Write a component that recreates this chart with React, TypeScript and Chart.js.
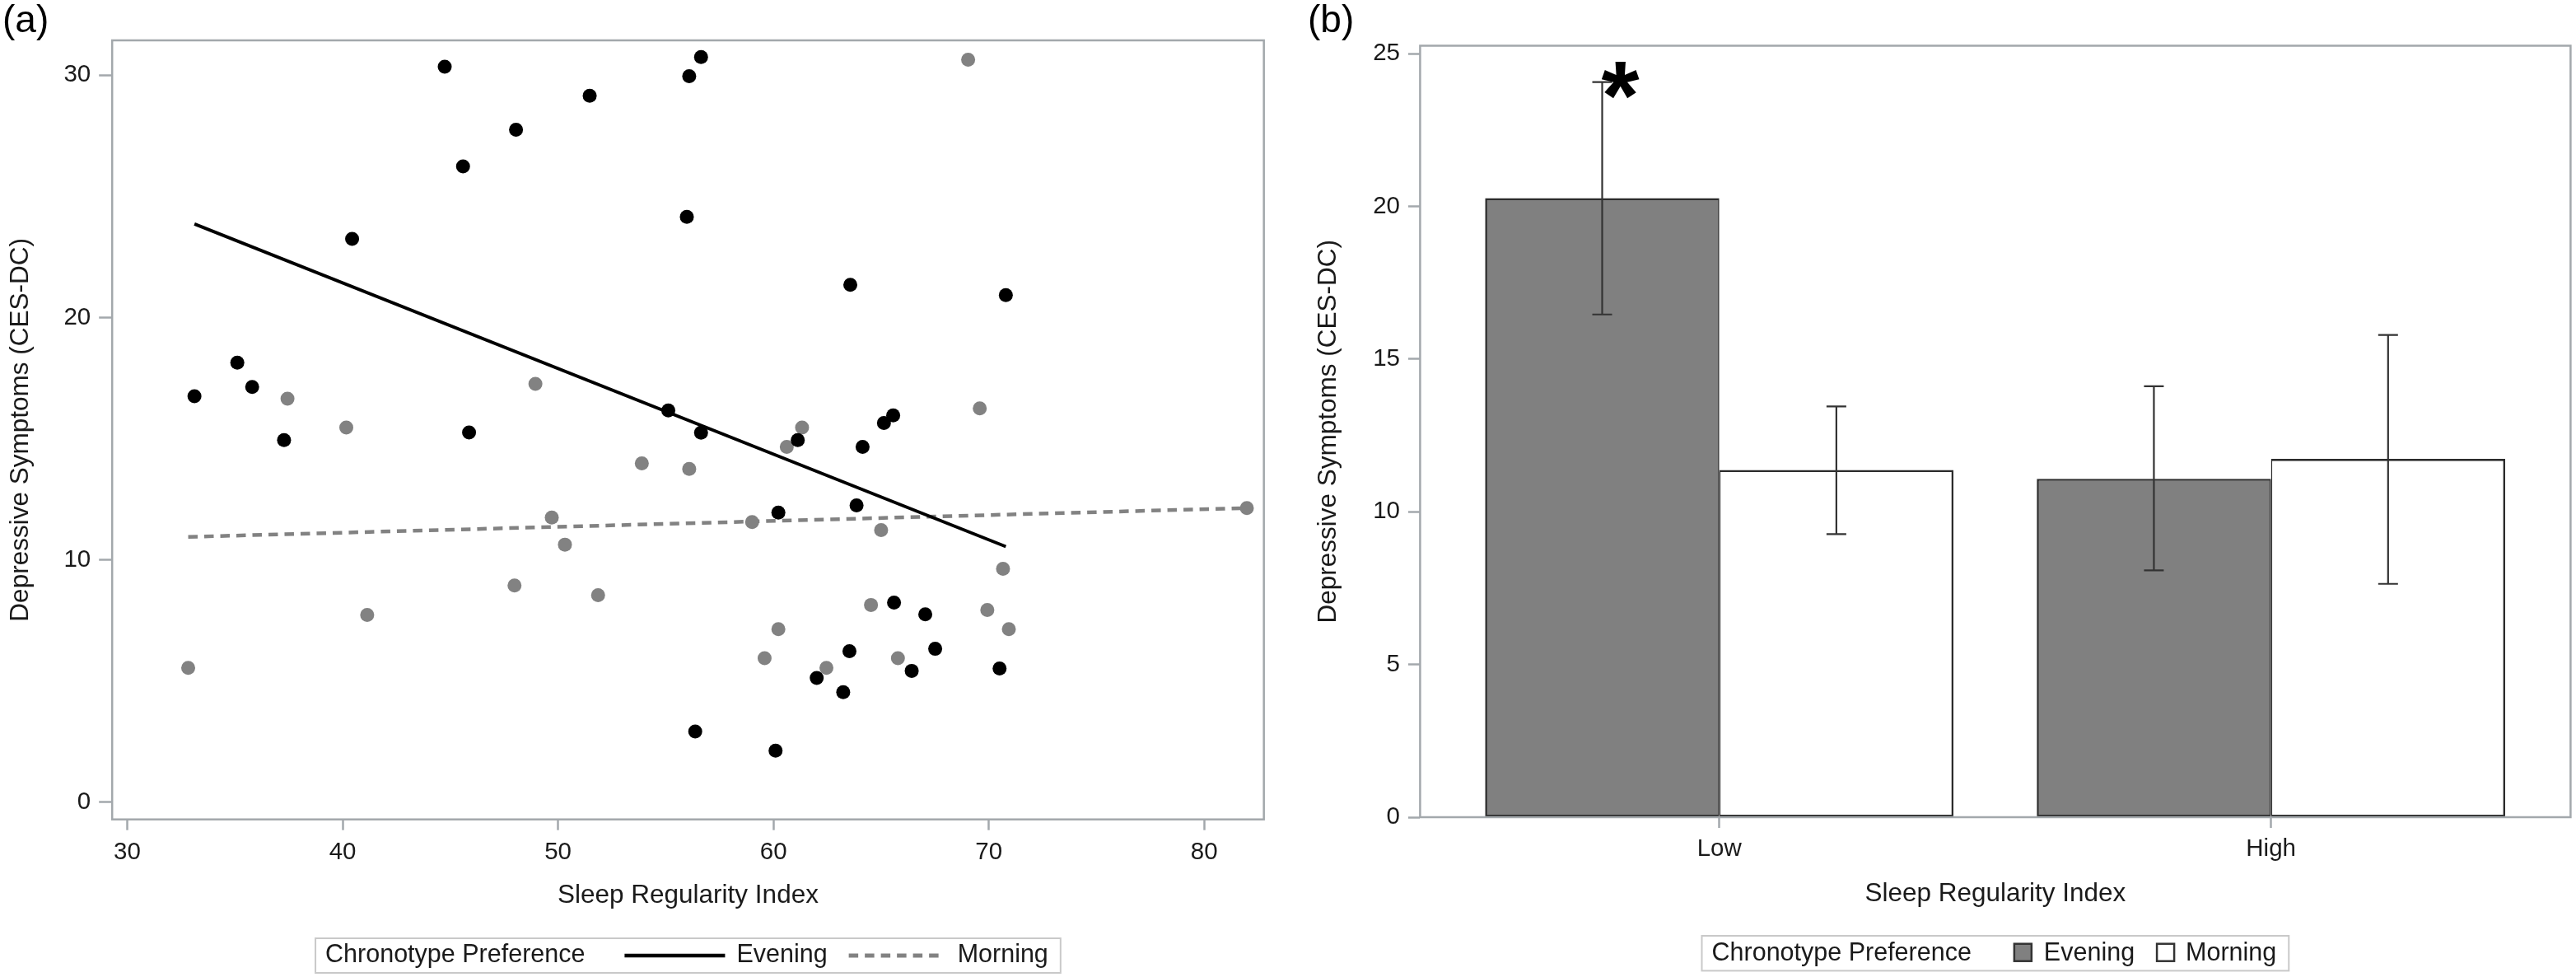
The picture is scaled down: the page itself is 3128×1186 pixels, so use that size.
import React, { useEffect, useRef } from 'react';
import { Chart, registerables } from 'chart.js';

Chart.register(...registerables);

const FONT = '"Liberation Sans", Arial, Helvetica, sans-serif';
const TEXT = '#1a1a1a';
const FRAME = '#a3a8ac';
const GRAY = '#828282';

// ---------------- Panel (a) data ----------------
const X_TICKS_A = [30, 40, 50, 60, 70, 80];
const Y_TICKS_A = [0, 10, 20, 30];
const X_RANGE_A = [29.3, 82.77];
const Y_RANGE_A = [-0.71, 31.44];

const EVENING_SRI = [44.74, 51.47, 48.05, 45.59, 40.44, 35.11, 35.8, 33.12, 37.28, 45.87, 56.64, 56.09, 55.98, 63.57, 70.79, 55.12, 56.64, 61.13, 64.14, 65.13, 65.56, 60.23, 63.86, 65.6, 67.05, 67.51, 63.53, 66.42, 70.5, 62.01, 63.24, 56.37, 60.1];
const EVENING_CESDC = [30.35, 29.15, 27.75, 26.24, 23.25, 18.14, 17.14, 16.75, 14.94, 15.26, 30.75, 29.96, 24.16, 21.35, 20.93, 16.17, 15.25, 14.94, 14.66, 15.65, 15.96, 11.95, 12.25, 8.24, 7.75, 6.33, 6.23, 5.42, 5.52, 5.13, 4.54, 2.92, 2.13];

const MORNING_SRI = [37.44, 40.17, 48.95, 53.89, 69.04, 69.58, 61.33, 60.62, 56.09, 49.71, 50.32, 47.98, 51.86, 41.14, 32.83, 59.01, 65.0, 70.66, 64.53, 69.93, 70.93, 60.23, 59.59, 65.78, 62.46, 81.98];
const MORNING_CESDC = [16.65, 15.46, 17.26, 13.98, 30.64, 16.25, 15.46, 14.66, 13.75, 11.75, 10.63, 8.94, 8.54, 7.73, 5.54, 11.56, 11.23, 9.63, 8.14, 7.93, 7.14, 7.14, 5.94, 5.94, 5.54, 12.14];

const EVENING_FIT_SRI = [33.12, 70.79];
const EVENING_FIT_CESDC = [23.86, 10.55];
const MORNING_FIT_SRI = [32.83, 81.98];
const MORNING_FIT_CESDC = [10.95, 12.14];

// ---------------- Panel (b) data ----------------
const GROUPS = ['Low', 'High'];
const GROUP_POS = [0, 1];
const X_RANGE_B = [-0.5423, 1.543];
const Y_RANGE_B = [0, 25.26];
const Y_TICKS_B = [0, 5, 10, 15, 20, 25];

const EVENING_MEAN = [20.27, 11.08];
const EVENING_LOWER = [16.46, 8.08];
const EVENING_UPPER = [24.07, 14.11];
const MORNING_MEAN = [11.37, 11.73];
const MORNING_LOWER = [9.27, 7.64];
const MORNING_UPPER = [13.45, 15.79];
const EVENING_SIGNIFICANT = [true, false];

const LEGEND_TITLE = 'Chronotype Preference';

const zip = (xs: number[], ys: number[]) => xs.map((x, i) => ({ x, y: ys[i] }));

// ---------------- plugins ----------------
function drawFrame(chart: any) {
  const { ctx, chartArea: c } = chart;
  ctx.save();
  ctx.strokeStyle = FRAME;
  ctx.lineWidth = 2.5;
  ctx.strokeRect(c.left, c.top, c.right - c.left, c.bottom - c.top);
  ctx.restore();
}
const framePlugin = {
  id: 'frame',
  beforeDatasetsDraw(chart: any, _a: any, opts: any) {
    if (!opts.after) drawFrame(chart);
  },
  afterDatasetsDraw(chart: any, _a: any, opts: any) {
    if (opts.after) drawFrame(chart);
  },
};

const panelLabelPlugin = {
  id: 'panelLabel',
  afterDraw(chart: any, _a: any, opts: any) {
    const { ctx } = chart;
    ctx.save();
    ctx.font = `46px ${FONT}`;
    ctx.fillStyle = '#000';
    ctx.textAlign = 'left';
    ctx.textBaseline = 'alphabetic';
    ctx.fillText(opts.text, opts.x, opts.y);
    ctx.restore();
  },
};

const boxLegendPlugin = {
  id: 'boxLegend',
  afterDraw(chart: any, _a: any, opts: any) {
    const { ctx, chartArea } = chart;
    const ds = chart.data.datasets;
    const items = opts.datasets.map((di: number, k: number) => ({
      label: ds[di].label,
      color: ds[di].borderColor,
      fill: ds[di].backgroundColor,
      dash: ds[di].borderDash || [],
      lw: opts.kind === 'line' ? ds[di].borderWidth : 2.5,
      w: opts.sampleW[k],
    }));
    ctx.save();
    ctx.font = `30.5px ${FONT}`;
    const titleW = ctx.measureText(opts.title).width;
    let total = opts.padL + titleW;
    items.forEach((it: any, i: number) => {
      total += (i === 0 ? opts.gapTitle : opts.gapItem) + it.w + opts.gapLabel[i] + ctx.measureText(it.label).width;
    });
    total += opts.padR;
    const left = (chartArea.left + chartArea.right) / 2 - total / 2;
    const top = chartArea.bottom + opts.offsetY;
    const h = opts.height;
    ctx.strokeStyle = '#c9c9c9';
    ctx.lineWidth = 2;
    ctx.strokeRect(left, top, total, h);
    const midY = top + h / 2;
    ctx.textBaseline = 'middle';
    ctx.textAlign = 'left';
    ctx.fillStyle = TEXT;
    let x = left + opts.padL;
    ctx.fillText(opts.title, x, midY);
    x += titleW;
    items.forEach((it: any, i: number) => {
      x += i === 0 ? opts.gapTitle : opts.gapItem;
      if (opts.kind === 'line') {
        ctx.beginPath();
        ctx.setLineDash(it.dash);
        ctx.strokeStyle = it.color;
        ctx.lineWidth = it.lw + 0.5;
        ctx.moveTo(x, midY);
        ctx.lineTo(x + it.w, midY);
        ctx.stroke();
        ctx.setLineDash([]);
      } else {
        const s = it.w;
        ctx.fillStyle = it.fill;
        ctx.fillRect(x, midY - s / 2 - 1, s, s);
        ctx.strokeStyle = '#333';
        ctx.lineWidth = it.lw;
        ctx.strokeRect(x, midY - s / 2 - 1, s, s);
      }
      x += it.w + opts.gapLabel[i];
      ctx.fillStyle = TEXT;
      ctx.fillText(it.label, x, midY);
      x += ctx.measureText(it.label).width;
    });
    ctx.restore();
  },
};

const errorBarPlugin = {
  id: 'errorBars',
  afterDatasetsDraw(chart: any, _a: any, opts: any) {
    const { ctx } = chart;
    const yScale = chart.scales.y;
    ctx.save();
    ctx.strokeStyle = '#333';
    ctx.lineWidth = 2.2;
    opts.bands.forEach((band: any, d: number) => {
      const meta = chart.getDatasetMeta(d);
      meta.data.forEach((el: any, i: number) => {
        const yt = yScale.getPixelForValue(band.upper[i]);
        const yb = yScale.getPixelForValue(band.lower[i]);
        ctx.beginPath();
        ctx.moveTo(el.x, yt);
        ctx.lineTo(el.x, yb);
        ctx.moveTo(el.x - 12, yt);
        ctx.lineTo(el.x + 12, yt);
        ctx.moveTo(el.x - 12, yb);
        ctx.lineTo(el.x + 12, yb);
        ctx.stroke();
        if (band.sig && band.sig[i]) {
          ctx.save();
          ctx.font = `bold 100px ${FONT}`;
          let m = ctx.measureText('*');
          const size = (100 * 45) / (m.actualBoundingBoxAscent + m.actualBoundingBoxDescent);
          ctx.font = `bold ${size}px ${FONT}`;
          m = ctx.measureText('*');
          const cx = el.x + 22;
          const cy = yt - 2.5;
          ctx.fillStyle = '#000';
          ctx.textAlign = 'left';
          ctx.textBaseline = 'alphabetic';
          const tx = cx - (m.actualBoundingBoxRight - m.actualBoundingBoxLeft) / 2;
          const ty = cy - (m.actualBoundingBoxDescent - m.actualBoundingBoxAscent) / 2;
          ctx.fillText('*', tx, ty);
          ctx.restore();
        }
      });
    });
    ctx.restore();
  },
};

const tickFont = { family: FONT, size: 29.5 };
const titleFont = { family: FONT, size: 31.5 };

function configA(): any {
  return {
    type: 'scatter',
    data: {
      datasets: [
        { label: 'Evening', data: zip(EVENING_SRI, EVENING_CESDC), backgroundColor: '#000', borderWidth: 0, pointRadius: 8.5, order: 0 },
        { label: 'Morning', data: zip(MORNING_SRI, MORNING_CESDC), backgroundColor: GRAY, borderWidth: 0, pointRadius: 8.5, order: 1 },
        { label: 'Evening', data: zip(EVENING_FIT_SRI, EVENING_FIT_CESDC), showLine: true, pointRadius: 0, borderColor: '#000', borderWidth: 4, order: 2 },
        { label: 'Morning', data: zip(MORNING_FIT_SRI, MORNING_FIT_CESDC), showLine: true, pointRadius: 0, borderColor: GRAY, borderWidth: 4.5, borderDash: [11.5, 8], order: 3 },
      ],
    },
    options: {
      responsive: false,
      animation: false,
      devicePixelRatio: 1,
      events: [],
      layout: { padding: { left: 0, top: 49, right: 25.3, bottom: 71.3 } },
      scales: {
        x: {
          type: 'linear',
          min: X_RANGE_A[0],
          max: X_RANGE_A[1],
          afterBuildTicks: (s: any) => { s.ticks = X_TICKS_A.map((v) => ({ value: v })); },
          afterFit: (s: any) => { s.height = 120; },
          grid: { drawOnChartArea: false, drawTicks: true, tickLength: 13, tickWidth: 2.5, tickColor: FRAME, color: FRAME },
          border: { display: false },
          ticks: { font: tickFont, color: TEXT, padding: 9, maxRotation: 0, autoSkip: false },
          title: { display: true, text: 'Sleep Regularity Index', font: titleFont, color: TEXT, padding: { top: 0, bottom: 8.8 } },
        },
        y: {
          type: 'linear',
          min: Y_RANGE_A[0],
          max: Y_RANGE_A[1],
          afterBuildTicks: (s: any) => { s.ticks = Y_TICKS_A.map((v) => ({ value: v })); },
          afterFit: (s: any) => { s.width = 136.2; },
          grid: { drawOnChartArea: false, drawTicks: true, tickLength: 16, tickWidth: 2.5, tickColor: FRAME, color: FRAME },
          border: { display: false },
          ticks: { font: tickFont, color: TEXT, padding: 10, autoSkip: false },
          title: { display: true, text: 'Depressive Symptoms (CES-DC)', font: titleFont, color: TEXT, padding: { top: 6.6, bottom: 0 } },
        },
      },
      plugins: {
        legend: { display: false },
        tooltip: { enabled: false },
        frame: { after: false },
        panelLabel: { text: '(a)', x: 3, y: 39 },
        boxLegend: {
          title: LEGEND_TITLE, kind: 'line', datasets: [2, 3], sampleW: [122, 112],
          padL: 12, padR: 15, gapTitle: 48, gapItem: 26, gapLabel: [14, 20], offsetY: 144.3, height: 42,
        },
      },
    },
    plugins: [framePlugin, panelLabelPlugin, boxLegendPlugin],
  };
}

function configB(): any {
  return {
    type: 'bar',
    data: {
      datasets: [
        {
          label: 'Evening', data: zip(GROUP_POS, EVENING_MEAN), backgroundColor: '#808080', borderColor: '#2b2b2b',
          borderWidth: { top: 2.6, left: 2.6, bottom: 2.6, right: 1.6 }, borderSkipped: false,
          categoryPercentage: 0.849, barPercentage: 1,
        },
        {
          label: 'Morning', data: zip(GROUP_POS, MORNING_MEAN), backgroundColor: '#ffffff', borderColor: '#2b2b2b',
          borderWidth: { top: 2.6, left: 1.6, bottom: 2.6, right: 2.6 }, borderSkipped: false,
          categoryPercentage: 0.849, barPercentage: 1,
        },
      ],
    },
    options: {
      responsive: false,
      animation: false,
      devicePixelRatio: 1,
      events: [],
      layout: { padding: { left: 0, top: 55.5, right: 6.6, bottom: 74 } },
      scales: {
        x: {
          type: 'linear',
          offset: false,
          min: X_RANGE_B[0],
          max: X_RANGE_B[1],
          afterBuildTicks: (s: any) => { s.ticks = GROUP_POS.map((v) => ({ value: v })); },
          afterFit: (s: any) => { s.height = 120; },
          grid: { drawOnChartArea: false, drawTicks: true, tickLength: 13, tickWidth: 2.5, tickColor: FRAME, color: FRAME, offset: false },
          border: { display: false },
          ticks: {
            font: tickFont, color: TEXT, padding: 8, maxRotation: 0, autoSkip: false,
            callback: (v: number) => { const i = GROUP_POS.indexOf(v); return i >= 0 ? GROUPS[i] : ''; },
          },
          title: { display: true, text: 'Sleep Regularity Index', font: titleFont, color: TEXT, padding: { top: 0, bottom: 8.1 } },
        },
        y: {
          type: 'linear',
          min: Y_RANGE_B[0],
          max: Y_RANGE_B[1],
          afterBuildTicks: (s: any) => { s.ticks = Y_TICKS_B.map((v) => ({ value: v })); },
          afterFit: (s: any) => { s.width = 154.4; },
          grid: { drawOnChartArea: false, drawTicks: true, tickLength: 14.4, tickWidth: 2.5, tickColor: FRAME, color: FRAME },
          border: { display: false },
          ticks: { font: tickFont, color: TEXT, padding: 10, autoSkip: false },
          title: { display: true, text: 'Depressive Symptoms (CES-DC)', font: titleFont, color: TEXT, padding: { top: 24.1, bottom: 0 } },
        },
      },
      plugins: {
        legend: { display: false },
        tooltip: { enabled: false },
        frame: { after: true },
        panelLabel: { text: '(b)', x: 18, y: 39 },
        errorBars: {
          bands: [
            { lower: EVENING_LOWER, upper: EVENING_UPPER, sig: EVENING_SIGNIFICANT },
            { lower: MORNING_LOWER, upper: MORNING_UPPER },
          ],
        },
        boxLegend: {
          title: LEGEND_TITLE, kind: 'box', datasets: [0, 1], sampleW: [21, 21],
          padL: 12, padR: 15, gapTitle: 52, gapItem: 27, gapLabel: [15, 14], offsetY: 144, height: 42.4,
        },
      },
    },
    plugins: [framePlugin, panelLabelPlugin, errorBarPlugin, boxLegendPlugin],
  };
}

export default function App() {
  const refA = useRef<HTMLCanvasElement>(null);
  const refB = useRef<HTMLCanvasElement>(null);
  useEffect(() => {
    const a = new Chart(refA.current as HTMLCanvasElement, configA());
    const b = new Chart(refB.current as HTMLCanvasElement, configB());
    return () => {
      a.destroy();
      b.destroy();
    };
  }, []);
  return (
    <div style={{ position: 'absolute', left: 0, top: 0, width: 3128, height: 1186, background: '#fff' }}>
      <canvas ref={refA} width={1560} height={1186} style={{ position: 'absolute', left: 0, top: 0, width: 1560, height: 1186 }} />
      <canvas ref={refB} width={1558} height={1186} style={{ position: 'absolute', left: 1570, top: 0, width: 1558, height: 1186 }} />
    </div>
  );
}
